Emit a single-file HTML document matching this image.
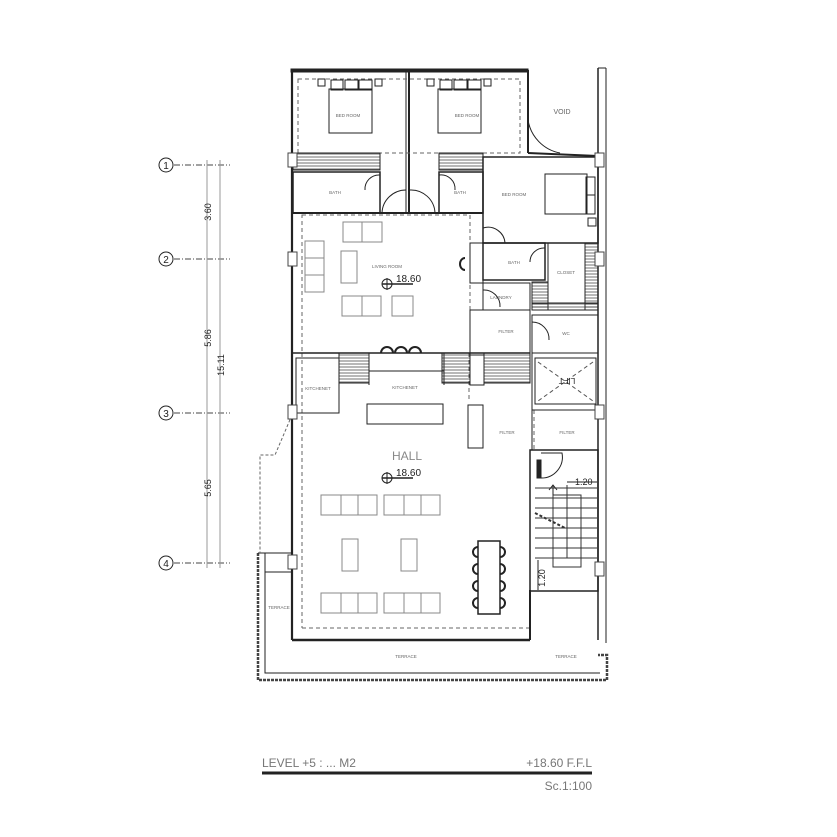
<!DOCTYPE html>
<html><head><meta charset="utf-8"><style>
html,body{margin:0;padding:0;background:#fff}
svg{display:block}
text{font-family:"Liberation Sans",sans-serif}
</style></head><body>
<svg width="837" height="837" viewBox="0 0 837 837" xmlns="http://www.w3.org/2000/svg">
<defs>
<pattern id="st" width="4" height="3" patternUnits="userSpaceOnUse"><line x1="0" y1="1" x2="4" y2="1" stroke="#333" stroke-width="0.7"/></pattern>
<pattern id="sv" width="3" height="4" patternUnits="userSpaceOnUse"><line x1="1" y1="0" x2="1" y2="4" stroke="#333" stroke-width="0.7"/></pattern>
</defs>
<g fill="none" stroke="#222" stroke-width="1">
<!-- grid axes -->
<g stroke="#444" stroke-dasharray="6,2,1,2">
<line x1="174" y1="165" x2="230" y2="165"/><line x1="174" y1="259" x2="230" y2="259"/>
<line x1="174" y1="413" x2="230" y2="413"/><line x1="174" y1="563" x2="230" y2="563"/>
</g>
<g stroke="#999"><line x1="207" y1="160" x2="207" y2="568"/><line x1="220" y1="160" x2="220" y2="568"/></g>
<circle cx="166" cy="165" r="7"/><circle cx="166" cy="259" r="7"/><circle cx="166" cy="413" r="7"/><circle cx="166" cy="563" r="7"/>

<!-- outer walls -->
<rect x="291" y="69" width="237" height="3" fill="#222"/>
<line x1="292" y1="70" x2="292" y2="640" stroke-width="2.2"/>
<line x1="292" y1="640" x2="530" y2="640" stroke-width="2.5"/>
<line x1="528" y1="70" x2="528" y2="153" stroke-width="2"/>
<line x1="598" y1="68" x2="598" y2="640" stroke-width="1.5"/>
<line x1="606" y1="68" x2="606" y2="643" stroke-width="1"/>
<line x1="598" y1="68" x2="606" y2="68"/>
<line x1="409" y1="70" x2="409" y2="213" stroke-width="2"/>
<line x1="406" y1="70" x2="406" y2="213"/>
<!-- bedroom dashed -->
<g stroke="#666" stroke-dasharray="4,3">
<rect x="298" y="79" width="222" height="74"/>
<rect x="302" y="215" width="168" height="138"/>
<line x1="302" y1="353" x2="302" y2="628"/><line x1="302" y1="628" x2="530" y2="628"/>
<line x1="469" y1="353" x2="469" y2="400"/><line x1="534" y1="410" x2="534" y2="450"/>
</g>
<!-- beds -->
<rect x="329" y="89" width="43" height="44"/><rect x="331" y="80" width="12" height="10"/><rect x="345" y="80" width="13" height="10"/><rect x="359" y="80" width="13" height="10"/>
<rect x="318" y="79" width="7" height="7"/><rect x="375" y="79" width="7" height="7"/>
<rect x="438" y="89" width="43" height="44"/><rect x="440" y="80" width="12" height="10"/><rect x="454" y="80" width="13" height="10"/><rect x="468" y="80" width="13" height="10"/>
<rect x="427" y="79" width="7" height="7"/><rect x="484" y="79" width="7" height="7"/>
<rect x="545" y="174" width="42" height="40"/><rect x="586" y="177" width="9" height="18"/><rect x="586" y="195" width="9" height="19"/><rect x="588" y="218" width="8" height="8"/>
<!-- void door -->
<path d="M528 120 A40 40 0 0 0 560 153"/>
<line x1="528" y1="153" x2="598" y2="156" stroke-width="2"/>
<!-- baths -->
<rect x="293" y="153" width="87" height="17" fill="url(#st)"/>
<rect x="439" y="153" width="44" height="17" fill="url(#st)"/>
<rect x="293" y="172" width="87" height="41" stroke-width="1.5"/>
<rect x="439" y="172" width="44" height="41" stroke-width="1.5"/>
<line x1="292" y1="213" x2="483" y2="213" stroke-width="2"/>
<path d="M380 175 A14 14 0 0 0 365 190"/><path d="M439 175 A14 14 0 0 1 455 190"/>
<path d="M382 213 A24 24 0 0 1 406 190"/><path d="M410 190 A24 24 0 0 1 435 213"/>
<!-- right bedroom -->
<rect x="483" y="157" width="115" height="86" stroke-width="1.5"/>
<path d="M483 228 A17 17 0 0 1 505 243"/>
<rect x="470" y="243" width="13" height="40"/>
<rect x="483" y="243" width="62" height="37" stroke-width="1.5"/>
<path d="M545 248 A14 14 0 0 0 530 262"/>
<rect x="548" y="243" width="37" height="60"/>
<rect x="532" y="282" width="16" height="28" fill="url(#st)"/>
<rect x="585" y="243" width="13" height="67" fill="url(#st)"/>
<rect x="532" y="303" width="66" height="7"  fill="url(#st)"/>
<rect x="483" y="283" width="47" height="27"/>
<path d="M483 290 A16 16 0 0 1 500 307"/>
<rect x="470" y="310" width="60" height="43"/>
<rect x="532" y="315" width="66" height="38"/>
<path d="M532 322 A17 17 0 0 1 549 340"/>
<!-- living furniture -->
<g stroke="#888">
<rect x="343" y="222" width="39" height="20"/><line x1="362" y1="222" x2="362" y2="242"/>
<rect x="305" y="241" width="19" height="51"/><line x1="305" y1="258" x2="324" y2="258"/><line x1="305" y1="275" x2="324" y2="275"/>
<rect x="341" y="251" width="16" height="32"/>
<rect x="342" y="296" width="39" height="20"/><line x1="362" y1="296" x2="362" y2="316"/>
<rect x="392" y="296" width="21" height="20"/>
</g>
<path d="M465 258 a5 6 0 1 0 0 12" stroke-width="2"/>
<path d="M381 353 a6 6 0 0 1 12 0 M395 353 a6 6 0 0 1 12 0 M409 353 a6 6 0 0 1 12 0" stroke-width="2"/>
<!-- kitchen band -->
<line x1="292" y1="353" x2="530" y2="353" stroke-width="1.5"/>
<rect x="296" y="358" width="43" height="55"/>
<rect x="339" y="353" width="30" height="30" fill="url(#st)"/>
<rect x="369" y="353" width="75" height="18"/>
<rect x="442" y="353" width="28" height="30" fill="url(#st)"/>
<rect x="470" y="355" width="14" height="30"/>
<rect x="484" y="353" width="46" height="30" fill="url(#st)"/>
<line x1="369" y1="371" x2="369" y2="385"/><line x1="444" y1="371" x2="444" y2="385"/>
<rect x="367" y="404" width="76" height="20"/>
<rect x="468" y="405" width="15" height="43"/>
<!-- lift -->
<rect x="532" y="353" width="66" height="57"/>
<rect x="535" y="358" width="61" height="46"/>
<path d="M538 362 L593 401 M593 362 L538 401" stroke-dasharray="4,3" stroke="#555"/>
<rect x="532" y="410" width="66" height="40"/>
<!-- stair -->
<rect x="530" y="450" width="68" height="141" stroke-width="1.5"/>
<g stroke="#333">
<line x1="535" y1="488" x2="597" y2="488"/><line x1="535" y1="498" x2="597" y2="498"/><line x1="535" y1="508" x2="597" y2="508"/><line x1="535" y1="518" x2="597" y2="518"/><line x1="535" y1="528" x2="597" y2="528"/><line x1="535" y1="538" x2="597" y2="538"/><line x1="535" y1="548" x2="597" y2="548"/><line x1="535" y1="558" x2="597" y2="558"/>
<rect x="553" y="495" width="28" height="72"/>
<line x1="567" y1="485" x2="567" y2="558"/>
<line x1="535" y1="513" x2="565" y2="528" stroke-dasharray="3,2" stroke-width="2"/>
</g>
<rect x="537" y="460" width="4" height="18" fill="#222"/>
<path d="M541 453 L562 453 A21 21 0 0 1 541 478"/>
<path d="M553 495 L553 485 M549 490 L553 485 L557 490"/>
<line x1="567" y1="482" x2="597" y2="482"/>
<line x1="538" y1="560" x2="538" y2="590"/>
<!-- hall furniture -->
<g stroke="#888">
<rect x="321" y="495" width="56" height="20"/><line x1="341" y1="495" x2="341" y2="515"/><line x1="358" y1="495" x2="358" y2="515"/>
<rect x="384" y="495" width="56" height="20"/><line x1="404" y1="495" x2="404" y2="515"/><line x1="421" y1="495" x2="421" y2="515"/>
<rect x="342" y="539" width="16" height="32"/><rect x="401" y="539" width="16" height="32"/>
<rect x="321" y="593" width="56" height="20"/><line x1="341" y1="593" x2="341" y2="613"/><line x1="358" y1="593" x2="358" y2="613"/>
<rect x="384" y="593" width="56" height="20"/><line x1="404" y1="593" x2="404" y2="613"/><line x1="421" y1="593" x2="421" y2="613"/>
</g>
<rect x="478" y="541" width="22" height="73" stroke-width="1.5"/>
<g stroke-width="2"><path d="M478 547 a5 5 0 0 0 0 10 M478 564 a5 5 0 0 0 0 10 M478 581 a5 5 0 0 0 0 10 M478 598 a5 5 0 0 0 0 10 M500 547 a5 5 0 0 1 0 10 M500 564 a5 5 0 0 1 0 10 M500 581 a5 5 0 0 1 0 10 M500 598 a5 5 0 0 1 0 10"/></g>
<!-- terrace -->
<line x1="530" y1="590" x2="530" y2="640" stroke-width="2"/>
<path d="M258 553 L258 680 L607 680 L607 655 L598 655" stroke-dasharray="3,1" stroke-width="2.5" stroke="#444"/>
<path d="M265 553 L265 673 L600 673"/>
<line x1="258" y1="553" x2="292" y2="553"/><line x1="265" y1="572" x2="292" y2="572"/>
<path d="M292 415 L275 455 L260 455 L260 553" stroke-dasharray="3,2" stroke="#666"/>
<!-- column markers -->
<g fill="#fff" stroke="#444">
<rect x="288" y="153" width="9" height="14"/><rect x="288" y="252" width="9" height="14"/><rect x="288" y="405" width="9" height="14"/><rect x="288" y="555" width="9" height="14"/>
<rect x="595" y="153" width="9" height="14"/><rect x="595" y="252" width="9" height="14"/><rect x="595" y="405" width="9" height="14"/><rect x="595" y="562" width="9" height="14"/>
</g>
<!-- level markers -->
<circle cx="387" cy="284" r="5"/><line x1="382" y1="284" x2="413" y2="284" stroke-width="1.5"/><line x1="387" y1="278" x2="387" y2="290"/>
<circle cx="387" cy="478" r="5"/><line x1="382" y1="478" x2="413" y2="478" stroke-width="1.5"/><line x1="387" y1="472" x2="387" y2="484"/>
<!-- title -->
<line x1="262" y1="773" x2="592" y2="773" stroke-width="3"/>
</g>
<g fill="#222" font-size="11">
<text x="166" y="169" text-anchor="middle" font-size="10">1</text>
<text x="166" y="263" text-anchor="middle" font-size="10">2</text>
<text x="166" y="417" text-anchor="middle" font-size="10">3</text>
<text x="166" y="567" text-anchor="middle" font-size="10">4</text>
<text transform="translate(211,212) rotate(-90)" text-anchor="middle" font-size="9">3.60</text>
<text transform="translate(211,338) rotate(-90)" text-anchor="middle" font-size="9">5.86</text>
<text transform="translate(211,488) rotate(-90)" text-anchor="middle" font-size="9">5.65</text>
<text transform="translate(224,365) rotate(-90)" text-anchor="middle" font-size="9">15.11</text>
<text x="396" y="282" font-size="10">18.60</text>
<text x="396" y="476" font-size="10">18.60</text>
<text x="407" y="460" font-size="12" fill="#888" text-anchor="middle">HALL</text>
<text x="575" y="485" font-size="9">1.20</text>
<text transform="translate(545,578) rotate(-90)" font-size="9" text-anchor="middle">1.20</text>
</g>
<g fill="#666" font-size="4.5" text-anchor="middle">
<text x="348" y="117">BED ROOM</text><text x="467" y="117">BED ROOM</text>
<text x="562" y="114" font-size="7">VOID</text>
<text x="335" y="194">BATH</text><text x="460" y="194">BATH</text>
<text x="514" y="196">BED ROOM</text>
<text x="387" y="268">LIVING ROOM</text>
<text x="514" y="264">BATH</text><text x="566" y="274">CLOSET</text>
<text x="501" y="299">LAUNDRY</text><text x="506" y="333">FILTER</text><text x="566" y="335">WC</text>
<text x="318" y="390">KITCHENET</text><text x="405" y="389">KITCHENET</text>
<text x="507" y="434">FILTER</text><text x="567" y="434">FILTER</text>
<text x="279" y="609">TERRACE</text><text x="406" y="658">TERRACE</text><text x="566" y="658">TERRACE</text>
</g>
<text x="567" y="384" font-size="8" fill="#222" text-anchor="middle" transform="rotate(180 567 381)">LIFT</text>
<g fill="#777" font-size="12">
<text x="262" y="767">LEVEL +5 : ... M2</text>
<text x="592" y="767" text-anchor="end">+18.60 F.F.L</text>
<text x="592" y="790" text-anchor="end">Sc.1:100</text>
</g>
</svg>
</body></html>
